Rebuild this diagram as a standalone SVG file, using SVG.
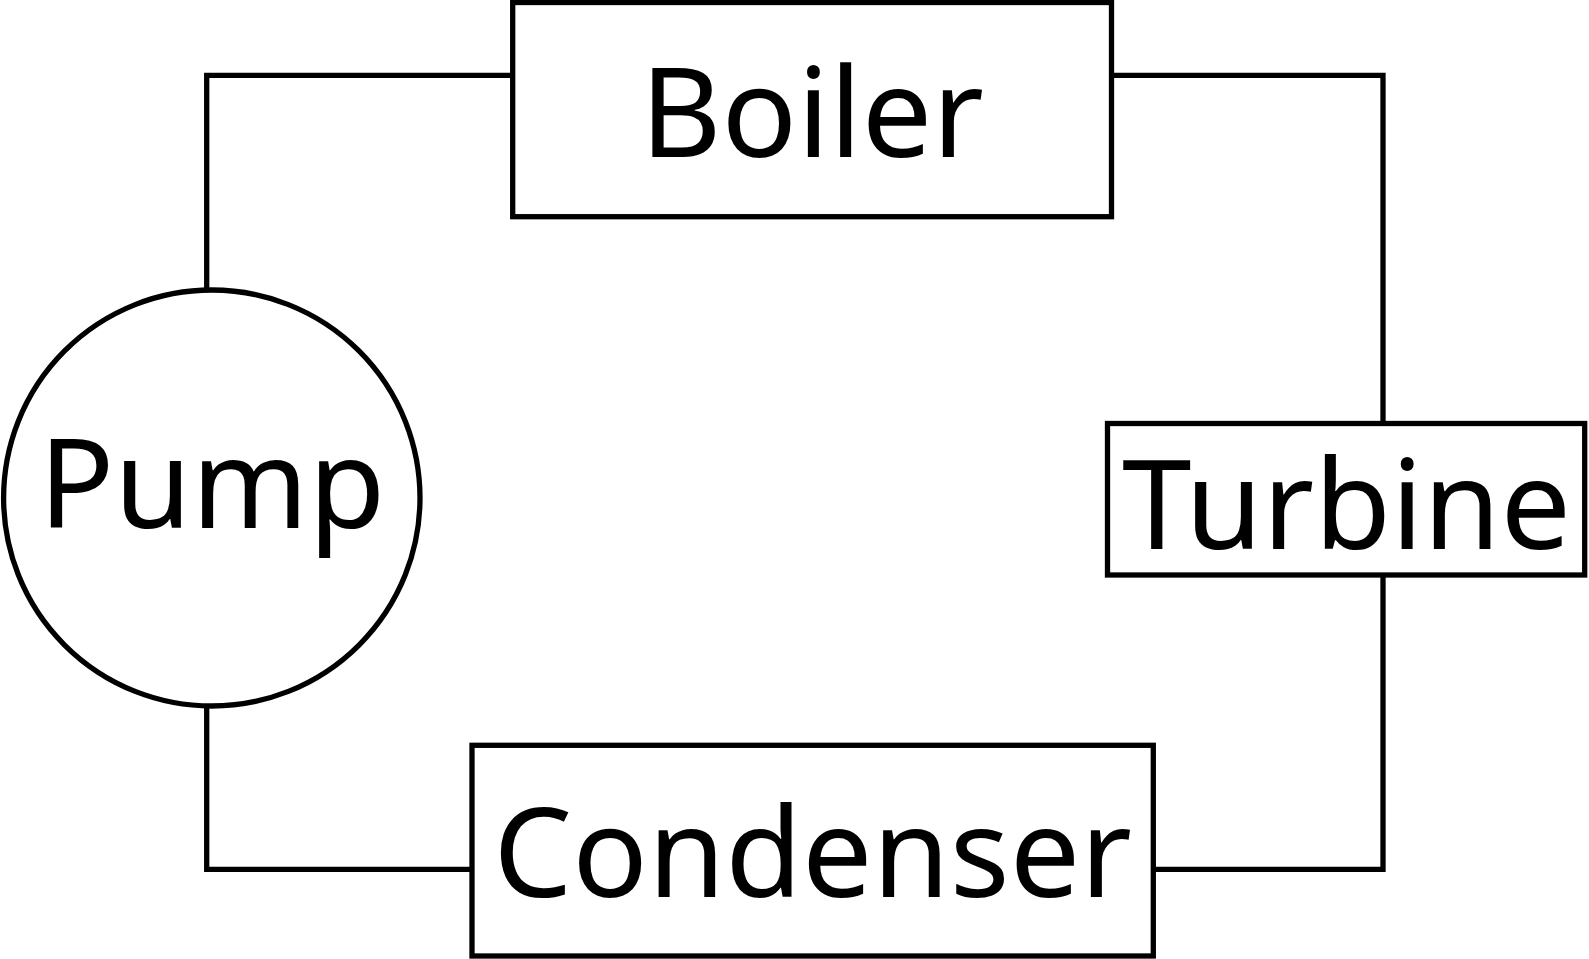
<svg xmlns="http://www.w3.org/2000/svg" width="1589" height="959" viewBox="0 0 1589 959">
<style>
.shape{fill:#fff;stroke:#000;stroke-width:5.3}
.conn{fill:none;stroke:#000;stroke-width:5.3}
.lbl{font-family:"Noto Sans","Open Sans",sans-serif;font-size:125px;fill:#000;text-anchor:middle}
</style>
<rect width="1589" height="959" fill="#fff"/>
<g id="connectors">
<polyline class="conn" points="512.7,75.3 206.7,75.3 206.7,290"/>
<polyline class="conn" points="1111.5,75.3 1383,75.3 1383,423.5"/>
<polyline class="conn" points="1383,575 1383,869.3 1153.3,869.3"/>
<polyline class="conn" points="472,869.3 206.7,869.3 206.7,706"/>
</g>
<g id="boiler">
<rect class="shape" x="512.7" y="2.5" width="598.8" height="214.2"/>
<text class="lbl" x="812" y="156.7">Boiler</text>
</g>
<g id="turbine">
<rect class="shape" x="1107.5" y="423.5" width="477.2" height="151.5"/>
<text class="lbl" x="1346.5" y="548.7">Turbine</text>
</g>
<g id="condenser">
<rect class="shape" x="472" y="745.3" width="681.3" height="210.7"/>
<text class="lbl" x="812.5" y="897.3">Condenser</text>
</g>
<g id="pump">
<ellipse class="shape" cx="211.8" cy="498" rx="208.2" ry="208"/>
<text class="lbl" x="212" y="528.3">Pump</text>
</g>
</svg>
